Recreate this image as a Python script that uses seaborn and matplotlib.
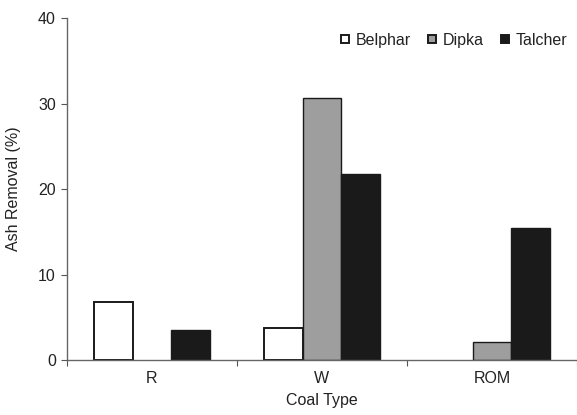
import matplotlib
matplotlib.use("Agg")
import matplotlib.pyplot as plt
from matplotlib.patches import Patch
import seaborn as sns
import pandas as pd

coal_types = ["R", "W", "ROM"]
sources = ["Belphar", "Dipka", "Talcher"]
belphar = [6.8, 3.8, 0.0]
dipka = [0.0, 30.7, 2.1]
talcher = [3.5, 21.8, 15.5]

rows = []
for src, vals in zip(sources, [belphar, dipka, talcher]):
    for ct, v in zip(coal_types, vals):
        rows.append({"Coal Type": ct, "Source": src, "Ash": v})
df = pd.DataFrame(rows)

sns.set_style("white")
plt.rcParams["font.family"] = ["Liberation Sans", "DejaVu Sans"]
FS = 11.5

fig = plt.figure(figsize=(5.77, 4.15), dpi=100)
ax = fig.add_axes([0.116, 0.1325, 0.884, 0.824])

palette = {"Belphar": "#ffffff", "Dipka": "#9d9e9d", "Talcher": "#1a1a1a"}
sns.barplot(data=df, x="Coal Type", y="Ash", hue="Source", order=coal_types,
            hue_order=sources, palette=palette, width=0.68, ax=ax,
            edgecolor="#1a1a1a", linewidth=1.0, saturation=1, legend=False)

# hide zero-height bars so they leave no outline on the axis
for p in ax.patches:
    if p.get_height() == 0:
        p.set_visible(False)
    elif p.get_facecolor()[:3] == (1.0, 1.0, 1.0):
        p.set_linewidth(1.4)

ax.set_ylim(0, 40)
ax.set_xlim(-0.5, 2.5)
ax.set_yticks([0, 10, 20, 30, 40])
ax.set_xticks([0, 1, 2])
ax.set_xticklabels(coal_types)
ax.set_xticks([-0.5, 0.5, 1.5, 2.5], minor=True)
ax.tick_params(axis="x", which="major", length=0, labelsize=FS,
               colors="#222222", pad=8)
ax.tick_params(axis="x", which="minor", length=4, width=0.8, color="#555555",
               bottom=True, direction="out")
ax.tick_params(axis="y", length=4, width=0.8, color="#555555", labelsize=FS,
               labelcolor="#222222", left=True, pad=4)
for s in ["top", "right"]:
    ax.spines[s].set_visible(False)
for s in ["left", "bottom"]:
    ax.spines[s].set_color("#666666")
    ax.spines[s].set_linewidth(1.0)

ax.set_xlabel("Coal Type", fontsize=FS, color="#222222", labelpad=5)
ax.set_ylabel("Ash Removal (%)", fontsize=FS, color="#222222", labelpad=12)

handles = [Patch(facecolor=palette[s], edgecolor="#1a1a1a", linewidth=1.4,
                 label=s) for s in sources]
ax.legend(handles=handles, loc="upper right", bbox_to_anchor=(1.0, 0.985),
          frameon=False, ncol=3, fontsize=FS, handlelength=0.45,
          handleheight=0.45, handletextpad=0.45, columnspacing=1.1,
          borderaxespad=0.2, labelcolor="#222222")

fig.savefig("out.png", dpi=100)
